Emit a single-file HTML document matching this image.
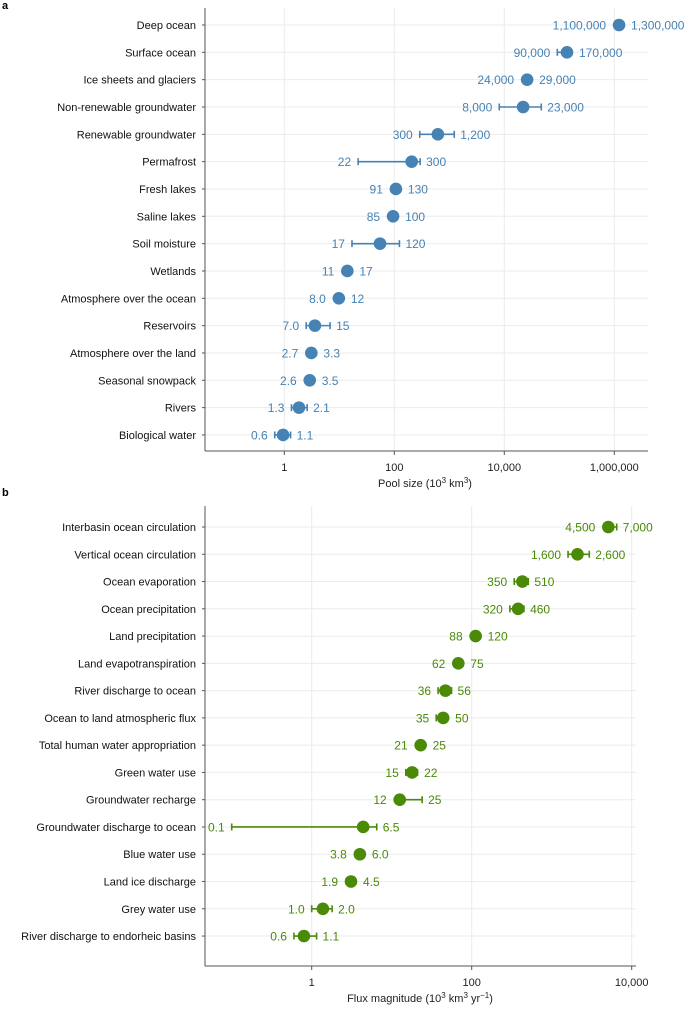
<!DOCTYPE html>
<html><head><meta charset="utf-8"><style>
html,body{margin:0;padding:0;background:#fff;}
svg{display:block;font-family:"Liberation Sans",Arial,sans-serif;}
</style></head><body>
<svg id="chart" width="685" height="1012" xmlns="http://www.w3.org/2000/svg"></svg>
<script>
// Panel a data (values in 10^3 km^3)
const poolNames = ["Deep ocean","Surface ocean","Ice sheets and glaciers","Non-renewable groundwater","Renewable groundwater","Permafrost","Fresh lakes","Saline lakes","Soil moisture","Wetlands","Atmosphere over the ocean","Reservoirs","Atmosphere over the land","Seasonal snowpack","Rivers","Biological water"];
const poolPoint = [1220000,138000,26000,22000,620,207,107,95,55,14,9.8,3.6,3.1,2.9,1.85,0.95];
const poolLow   = [null,92000,null,8100,290,22,null,null,17,12,null,2.5,null,null,1.35,0.67];
const poolHigh  = [null,158000,null,47000,1230,295,null,null,124,null,null,6.8,null,null,2.6,1.3];
const poolLowLabel  = ["1,100,000","90,000","24,000","8,000","300","22","91","85","17","11","8.0","7.0","2.7","2.6","1.3","0.6"];
const poolHighLabel = ["1,300,000","170,000","29,000","23,000","1,200","300","130","100","120","17","12","15","3.3","3.5","2.1","1.1"];
const poolTicks = [1,100,10000,1000000];
const poolTickLabels = ["1","100","10,000","1,000,000"];

// Panel b data (10^3 km^3 yr^-1)
const fluxNames = ["Interbasin ocean circulation","Vertical ocean circulation","Ocean evaporation","Ocean precipitation","Land precipitation","Land evapotranspiration","River discharge to ocean","Ocean to land atmospheric flux","Total human water appropriation","Green water use","Groundwater recharge","Groundwater discharge to ocean","Blue water use","Land ice discharge","Grey water use","River discharge to endorheic basins"];
const fluxPoint = [5100,2100,430,380,112,68,47,44,23,18,12.6,4.4,4.0,3.1,1.38,0.8];
const fluxLow   = [null,1600,340,300,null,null,38,36,null,15,null,0.1,3.5,2.7,1.0,0.6];
const fluxHigh  = [6500,2950,510,450,null,null,56,null,null,21,24,6.5,4.5,3.5,1.8,1.15];
const fluxLowLabel  = ["4,500","1,600","350","320","88","62","36","35","21","15","12","0.1","3.8","1.9","1.0","0.6"];
const fluxHighLabel = ["7,000","2,600","510","460","120","75","56","50","25","22","25","6.5","6.0","4.5","2.0","1.1"];
const fluxTicks = [1,100,10000];
const fluxTickLabels = ["1","100","10,000"];

const NS="http://www.w3.org/2000/svg";
const svg=document.getElementById('chart');
function el(tag,attrs,parent){const e=document.createElementNS(NS,tag);for(const k in attrs)e.setAttribute(k,attrs[k]);(parent||svg).appendChild(e);return e;}

function panel(cfg){
  const g=el('g',{});
  
  
  const xs=v=>cfg.x0+cfg.pxDec*Math.log10(v);
  const ys=i=>cfg.yFirst+i*cfg.step;
  const pl=el('text',{x:2,y:cfg.letterY,'font-size':11,'font-weight':'bold',fill:'#000'},g);
  pl.textContent=cfg.letter;
  
  
  cfg.ticks.forEach((t,i)=>{
    const gl=el('line',{x1:xs(t),x2:xs(t),y1:cfg.top,y2:cfg.axisY,stroke:'#ebebeb','stroke-width':1},g);
    
    
  });
  cfg.names.forEach((n,i)=>{
    const gl=el('line',{x1:cfg.left,x2:cfg.right,y1:ys(i),y2:ys(i),stroke:'#ebebeb','stroke-width':1},g);
    
    
  });
  const ax=el('line',{x1:cfg.left,x2:cfg.right,y1:cfg.axisY,y2:cfg.axisY,stroke:'#555','stroke-width':1},g);
  
  
  const ay=el('line',{x1:cfg.left,x2:cfg.left,y1:cfg.top,y2:cfg.axisY,stroke:'#555','stroke-width':1},g);
  
  
  cfg.ticks.forEach((t,i)=>{
    const tk=el('line',{x1:xs(t),x2:xs(t),y1:cfg.axisY,y2:cfg.axisY+4,stroke:'#555'},g);
    
    
    const tl=el('text',{x:xs(t),y:cfg.axisY+20,'font-size':11,'text-anchor':'middle',fill:'#222'},g);
    tl.textContent=cfg.tickLabels[i];
    
    
  });
  const at=el('text',{x:cfg.titleX,y:cfg.axisY+36,'font-size':11,'text-anchor':'middle',fill:'#222'},g);
  at.innerHTML=cfg.title;
  
  
  cfg.names.forEach((n,i)=>{
    const y=ys(i);
    const yt=el('line',{x1:cfg.left-3,x2:cfg.left,y1:y,y2:y,stroke:'#555'},g);
    
    
    const lab=el('text',{x:196,y:y+4,'font-size':11,'text-anchor':'end',fill:'#111'},g);
    lab.textContent=n;
    
    
    const px=xs(cfg.point[i]);
    let lo=px-6, hi=px+6;
    if(cfg.low[i]!=null||cfg.high[i]!=null){
      const a=cfg.low[i]!=null?xs(cfg.low[i]):px;
      const b=cfg.high[i]!=null?xs(cfg.high[i]):px;
      const eb=el('line',{x1:a,x2:b,y1:y,y2:y,stroke:cfg.color,'stroke-width':1.6},g);
      
      
      [a,b].forEach(xx=>{const c=el('line',{x1:xx,x2:xx,y1:y-3.5,y2:y+3.5,stroke:cfg.color,'stroke-width':1.6},g);
        
        });
      lo=Math.min(lo,a);hi=Math.max(hi,b);
    }
    const dot=el('circle',{cx:px,cy:y,r:6.3,fill:cfg.color},g);
    
    
    const l1=el('text',{x:lo-7,y:y+4.5,'font-size':12,'text-anchor':'end',fill:cfg.color},g);
    l1.textContent=cfg.lowLabel[i];
    
    
    const l2=el('text',{x:hi+6,y:y+4.5,'font-size':12,fill:cfg.color},g);
    l2.textContent=cfg.highLabel[i];
    
    
  });
}
panel({name:'panel-a-pool-size',letter:'a',letterY:9,names:poolNames,point:poolPoint,low:poolLow,high:poolHigh,lowLabel:poolLowLabel,highLabel:poolHighLabel,ticks:poolTicks,tickLabels:poolTickLabels,x0:284.3,pxDec:55,yFirst:25,step:27.33,top:8,axisY:451,left:205,right:648,color:'#4682b4',titleX:425,title:'Pool size (10<tspan baseline-shift="super" font-size="8">3</tspan> km<tspan baseline-shift="super" font-size="8">3</tspan>)'});
panel({name:'panel-b-flux-magnitude',letter:'b',letterY:496,names:fluxNames,point:fluxPoint,low:fluxLow,high:fluxHigh,lowLabel:fluxLowLabel,highLabel:fluxHighLabel,ticks:fluxTicks,tickLabels:fluxTickLabels,x0:311.7,pxDec:80,yFirst:527,step:27.27,top:506,axisY:966,left:205,right:636,color:'#4a8a06',titleX:420,title:'Flux magnitude (10<tspan baseline-shift="super" font-size="8">3</tspan> km<tspan baseline-shift="super" font-size="8">3</tspan> yr<tspan baseline-shift="super" font-size="8">−1</tspan>)'});
</script>
</body></html>
